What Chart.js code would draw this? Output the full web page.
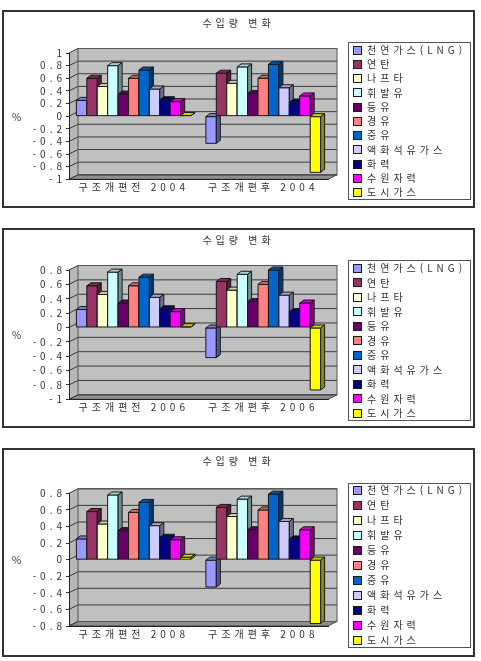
<!DOCTYPE html>
<html lang="ko">
<head>
<meta charset="utf-8">
<title>수입량 변화</title>
<script src="https://cdn.jsdelivr.net/npm/chart.js@4.4.1/dist/chart.umd.min.js"></script>
<style>
  html, body { margin: 0; padding: 0; background: #fff; }
  body { position: relative; width: 481px; height: 661px; overflow: hidden; font-family: "Noto Sans CJK KR", sans-serif; }
  .frame { position: absolute; left: 2px; width: 469px; border: 2px solid #333; }
  .frame canvas { display: block; }
  .unit { position: absolute; left: 12px; font-size: 10px; line-height: 12px; color: #333; }
</style>
</head>
<body>
<div class="frame" style="top:10px;height:194px"><canvas id="chart2004" width="469" height="194"></canvas></div>
<div class="frame" style="top:228px;height:196px"><canvas id="chart2006" width="469" height="196"></canvas></div>
<div class="frame" style="top:448px;height:205px"><canvas id="chart2008" width="469" height="205"></canvas></div>
<span class="unit" style="top:111px">%</span>
<span class="unit" style="top:329px">%</span>
<span class="unit" style="top:554px">%</span>
<script>
  const seriesNames = ["천연가스(LNG)", "연탄", "나프타", "휘발유", "등유", "경유", "중유", "액화석유가스", "화력", "수원자력", "도시가스"];
  const seriesColors = ["#9999ff", "#993366", "#ffffcc", "#ccffff", "#660066", "#ff8080", "#0066cc", "#ccccff", "#000080", "#ff00ff", "#ffff00"];

  const labels2004 = ["구조개편전 2004", "구조개편후 2004"];
  const before2004 = [0.25, 0.60, 0.47, 0.80, 0.35, 0.60, 0.73, 0.43, 0.26, 0.23, 0.01];
  const after2004 = [-0.43, 0.68, 0.52, 0.78, 0.36, 0.60, 0.82, 0.45, 0.22, 0.32, -0.89];
  const yRange2004 = [-1, 1];

  const labels2006 = ["구조개편전 2006", "구조개편후 2006"];
  const before2006 = [0.25, 0.58, 0.46, 0.77, 0.34, 0.58, 0.70, 0.42, 0.26, 0.22, 0.01];
  const after2006 = [-0.42, 0.64, 0.52, 0.74, 0.36, 0.60, 0.80, 0.45, 0.22, 0.34, -0.87];
  const yRange2006 = [-1, 0.8];

  const labels2008 = ["구조개편전 2008", "구조개편후 2008"];
  const before2008 = [0.25, 0.58, 0.43, 0.78, 0.35, 0.57, 0.69, 0.41, 0.27, 0.24, 0.03];
  const after2008 = [-0.33, 0.63, 0.52, 0.73, 0.36, 0.60, 0.79, 0.46, 0.25, 0.36, -0.77];
  const yRange2008 = [-0.8, 0.8];

  const yStep = 0.2;

  // front plane of the plot, left/right edges inside each canvas
  const PLOT_LEFT = 65;
  const PLOT_RIGHT = 324;
  // depth of the walls and of the columns
  const WALL_DX = 9, WALL_DY = 4.5;
  const BAR_DX = 4, BAR_DY = 3;
  const LEGEND_X = 349;
  const TEXT = "#333";
  const SPACING = "4px";

  Chart.defaults.font.family = '"Noto Sans CJK KR", "Noto Sans", sans-serif';
  Chart.defaults.font.size = 10;

  function shade(hex, f) {
    const n = parseInt(hex.slice(1), 16);
    const r = Math.round(((n >> 16) & 255) * f);
    const g = Math.round(((n >> 8) & 255) * f);
    const b = Math.round((n & 255) * f);
    return `rgb(${r},${g},${b})`;
  }

  function poly(ctx, pts, fill, stroke) {
    ctx.beginPath();
    ctx.moveTo(pts[0][0], pts[0][1]);
    for (let i = 1; i < pts.length; i++) ctx.lineTo(pts[i][0], pts[i][1]);
    ctx.closePath();
    if (fill) { ctx.fillStyle = fill; ctx.fill(); }
    if (stroke) { ctx.strokeStyle = stroke; ctx.stroke(); }
  }

  const spacing = {
    id: "spacing",
    beforeUpdate(chart) { chart.ctx.letterSpacing = SPACING; },
    beforeDraw(chart) { chart.ctx.letterSpacing = SPACING; },
  };

  const walls = {
    id: "walls",
    beforeDraw(chart) {
      const { ctx, chartArea: a, scales } = chart;
      const y = scales.y;
      ctx.save();
      ctx.lineWidth = 1;
      // back wall
      ctx.fillStyle = "#c0c0c0";
      ctx.fillRect(a.left + WALL_DX, a.top - WALL_DY, a.right - a.left, a.bottom - a.top);
      // side wall
      poly(ctx, [[a.left, a.top], [a.left + WALL_DX, a.top - WALL_DY], [a.left + WALL_DX, a.bottom - WALL_DY], [a.left, a.bottom]], "#b8b8b8");
      // floor
      poly(ctx, [[a.left, a.bottom], [a.left + WALL_DX, a.bottom - WALL_DY], [a.right + WALL_DX, a.bottom - WALL_DY], [a.right, a.bottom]], "#8f8f8f", "#444");
      // grid lines on the walls
      ctx.strokeStyle = "#3a3a3a";
      y.ticks.forEach((t) => {
        const py = y.getPixelForValue(t.value);
        ctx.beginPath();
        ctx.moveTo(a.left, py);
        ctx.lineTo(a.left + WALL_DX, py - WALL_DY);
        ctx.lineTo(a.right + WALL_DX, py - WALL_DY);
        ctx.stroke();
      });
      ctx.strokeStyle = "#555";
      ctx.strokeRect(a.left + WALL_DX, a.top - WALL_DY, a.right - a.left, a.bottom - a.top);
      ctx.restore();
    },
  };

  // boxed legend built from the datasets
  const boxLegend = {
    id: "boxLegend",
    afterDraw(chart, args, opts) {
      const ctx = chart.ctx;
      const sets = chart.data.datasets;
      const top = opts.top, step = opts.step;
      ctx.save();
      ctx.lineWidth = 1;
      ctx.strokeStyle = "#555";
      const y0 = Math.round(top - 3) + 0.5;
      const y1 = Math.round(top + (sets.length - 1) * step + 10 + 1.5) + 0.5;
      ctx.strokeRect(LEGEND_X - 4.5, y0, chart.width - 3 - (LEGEND_X - 5), y1 - y0);
      ctx.font = `10px ${Chart.defaults.font.family}`;
      ctx.letterSpacing = "4px";
      ctx.textBaseline = "middle";
      ctx.textAlign = "left";
      sets.forEach((ds, i) => {
        const y = top + i * step;
        const by = Math.round(y + 0.5) + 0.5;
        ctx.fillStyle = ds.backgroundColor;
        ctx.fillRect(LEGEND_X + 0.5, by, 8, 8);
        ctx.strokeStyle = "#1a1a1a";
        ctx.strokeRect(LEGEND_X + 0.5, by, 8, 8);
        ctx.fillStyle = TEXT;
        ctx.fillText(ds.label, LEGEND_X + 14, y + 5);
      });
      ctx.restore();
    },
  };

  // redraws every column with a top and a side face, left to right
  const columns3d = {
    id: "columns3d",
    afterDatasetsDraw(chart) {
      const ctx = chart.ctx;
      ctx.save();
      ctx.lineWidth = 1;
      chart.data.datasets.forEach((ds, d) => {
        const meta = chart.getDatasetMeta(d);
        meta.data.forEach((bar) => {
          const { x, y, base, width } = bar.getProps(["x", "y", "base", "width"], true);
          const l = x - width / 2, r = x + width / 2;
          const t = Math.min(y, base), b = Math.max(y, base);
          const c = ds.backgroundColor;
          poly(ctx, [[l, t], [r, t], [r, b], [l, b]], c, "#1a1a1a");
          poly(ctx, [[l, t], [l + BAR_DX, t - BAR_DY], [r + BAR_DX, t - BAR_DY], [r, t]], shade(c, 0.82), "#1a1a1a");
          poly(ctx, [[r, t], [r + BAR_DX, t - BAR_DY], [r + BAR_DX, b - BAR_DY], [r, b]], shade(c, 0.55), "#1a1a1a");
        });
      });
      ctx.restore();
    },
  };

  function makeChart(canvasId, labels, before, after, yRange, box) {
    const el = document.getElementById(canvasId);
    if (!el || typeof Chart === "undefined") return null;

    return new Chart(el, {
      type: "bar",
      data: {
        labels,
        datasets: seriesNames.map((name, i) => ({
          label: name,
          data: [before[i], after[i]],
          backgroundColor: seriesColors[i],
          borderColor: "#1a1a1a",
          borderWidth: 1,
          categoryPercentage: 0.886,
          barPercentage: 1,
        })),
      },
      options: {
        responsive: false,
        animation: false,
        devicePixelRatio: 1,
        layout: { padding: { bottom: box.padBottom } },
        plugins: {
          title: {
            display: true,
            text: "수입량 변화",
            color: TEXT,
            font: { size: 10, weight: "normal" },
            padding: { top: box.titleTop, bottom: box.top - box.titleTop - 12 },
          },
          legend: { display: false },
          tooltip: { enabled: false },
          boxLegend: { top: box.legendTop, step: box.legendStep },
        },
        scales: {
          x: {
            grid: { display: false, drawTicks: false },
            border: { display: true, color: "#222" },
            ticks: { color: TEXT, padding: box.labelGap, maxRotation: 0, autoSkip: false },
            afterFit(s) { s.height = box.xHeight; },
          },
          y: {
            min: yRange[0],
            max: yRange[1],
            ticks: {
              stepSize: yStep,
              autoSkip: false,
              padding: 0,
              color: TEXT,
              callback: (v) => String(Math.round(v * 10) / 10),
            },
            grid: { drawOnChartArea: false, drawTicks: true, tickLength: 3, color: "#333" },
            border: { display: true, color: "#222" },
            afterFit(s) { s.width = PLOT_LEFT; },
          },
          gap: {
            type: "linear",
            position: "right",
            display: true,
            grid: { display: false, drawTicks: false },
            border: { display: false },
            ticks: { display: false },
            afterFit(s) { s.width = s.chart.width - PLOT_RIGHT; },
          },
        },
      },
      plugins: [spacing, walls, boxLegend, columns3d],
    });
  }

  makeChart("chart2004", labels2004, before2004, after2004, yRange2004,
    { top: 41, titleTop: 5, padBottom: 4, xHeight: 22.7, labelGap: 1.7, legendTop: 33, legendStep: 14.27 });
  makeChart("chart2006", labels2006, before2006, after2006, yRange2006,
    { top: 40, titleTop: 4, padBottom: 3.2, xHeight: 23.5, labelGap: 2.4, legendTop: 33.3, legendStep: 14.5 });
  makeChart("chart2008", labels2008, before2008, after2008, yRange2008,
    { top: 43.3, titleTop: 5, padBottom: 4.3, xHeight: 24.7, labelGap: 2.3, legendTop: 35.7, legendStep: 15 });
</script>
</body>
</html>
